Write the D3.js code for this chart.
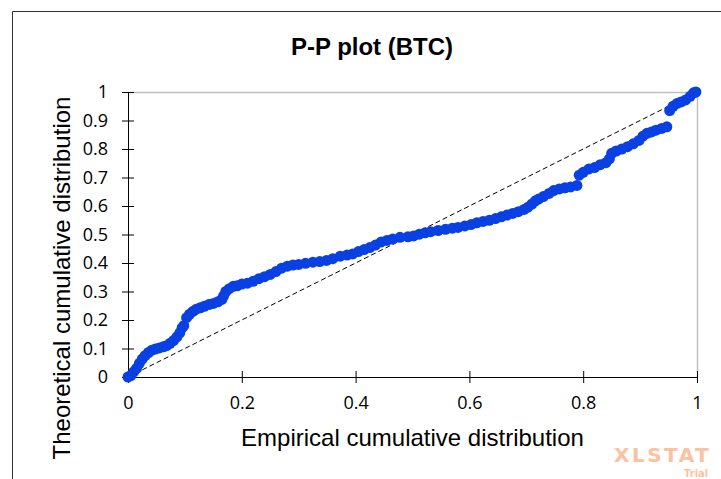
<!DOCTYPE html>
<html>
<head>
<meta charset="utf-8">
<script src="https://cdn.jsdelivr.net/npm/d3@7"></script>
<style>
  body { margin: 0; background: #fff; }
  svg { display: block; }
</style>
</head>
<body>
<div id="chart"></div>
<script>
// P-P plot values
var empirical = [0.000, 0.005, 0.010, 0.015, 0.020, 0.025, 0.030, 0.036, 0.042, 0.048,
    0.055, 0.062, 0.068, 0.074, 0.080, 0.086, 0.091, 0.095, 0.098, 0.103,
    0.108, 0.114, 0.120, 0.127, 0.134, 0.142, 0.150, 0.158, 0.165, 0.168,
    0.172, 0.178, 0.185, 0.192, 0.200, 0.210, 0.220, 0.230, 0.240, 0.250,
    0.260, 0.270, 0.280, 0.290, 0.300, 0.312, 0.325, 0.337, 0.349, 0.360,
    0.373, 0.385, 0.395, 0.405, 0.415, 0.425, 0.435, 0.445, 0.455, 0.465,
    0.478, 0.492, 0.502, 0.512, 0.522, 0.532, 0.545, 0.558, 0.570, 0.580,
    0.592, 0.603, 0.613, 0.624, 0.635, 0.646, 0.656, 0.666, 0.676, 0.686,
    0.696, 0.703, 0.710, 0.716, 0.722, 0.730, 0.740, 0.748, 0.758, 0.768,
    0.778, 0.789, 0.793, 0.800, 0.810, 0.820, 0.830, 0.840, 0.846, 0.850,
    0.858, 0.868, 0.878, 0.888, 0.898, 0.905, 0.912, 0.920, 0.928, 0.938,
    0.947, 0.952, 0.958, 0.965, 0.972, 0.980, 0.988, 0.994, 0.998];
var theoretical = [0.000, 0.005, 0.018, 0.030, 0.048, 0.063, 0.075, 0.086, 0.094, 0.098,
    0.102, 0.106, 0.110, 0.118, 0.128, 0.141, 0.155, 0.172, 0.180, 0.208,
    0.220, 0.230, 0.238, 0.243, 0.248, 0.254, 0.258, 0.264, 0.272, 0.285,
    0.300, 0.310, 0.318, 0.320, 0.326, 0.329, 0.336, 0.345, 0.352, 0.360,
    0.370, 0.382, 0.389, 0.393, 0.395, 0.399, 0.403, 0.405, 0.409, 0.415,
    0.424, 0.428, 0.432, 0.440, 0.447, 0.454, 0.463, 0.474, 0.479, 0.484,
    0.490, 0.492, 0.495, 0.501, 0.506, 0.510, 0.514, 0.518, 0.522, 0.525,
    0.530, 0.535, 0.541, 0.546, 0.550, 0.556, 0.562, 0.568, 0.574, 0.580,
    0.588, 0.596, 0.607, 0.618, 0.625, 0.633, 0.644, 0.654, 0.660, 0.664,
    0.667, 0.672, 0.708, 0.718, 0.730, 0.735, 0.745, 0.752, 0.765, 0.785,
    0.793, 0.800, 0.808, 0.818, 0.830, 0.845, 0.855, 0.860, 0.866, 0.872,
    0.878, 0.935, 0.950, 0.960, 0.965, 0.972, 0.985, 0.997, 1.000];
var xTicks = [0, 0.2, 0.4, 0.6, 0.8, 1];
var yTicks = [0, 0.1, 0.2, 0.3, 0.4, 0.5, 0.6, 0.7, 0.8, 0.9, 1];

var W = 721, H = 479;
var margin = {top: 92, right: 24, bottom: 102, left: 128};
var width = W - margin.left - margin.right,
    height = H - margin.top - margin.bottom;

var svg = d3.select("#chart").append("svg")
    .attr("width", W)
    .attr("height", H);

// chart frame (runs off the right and bottom edge)
svg.append("path")
    .attr("d", "M12.5," + (H + 5) + "V11.5H" + (W + 5))
    .attr("fill", "none")
    .attr("stroke", "#333")
    .attr("stroke-width", 1);

svg.append("text")
    .attr("x", 372)
    .attr("y", 55)
    .attr("text-anchor", "middle")
    .style("font-family", "'Liberation Sans', Arial, sans-serif")
    .style("font-weight", "bold")
    .style("font-size", "24px")
    .text("P-P plot (BTC)");

var g = svg.append("g")
    .attr("transform", "translate(" + margin.left + "," + margin.top + ")");

var xScale = d3.scaleLinear().domain([0, 1]).range([0, width]);
var yScale = d3.scaleLinear().domain([0, 1]).range([height, 0]);

// plot area border (top + right)
g.append("path")
    .attr("d", "M0,0.5H" + (xScale(1) + 0.5) + "V" + height)
    .attr("fill", "none")
    .attr("stroke", "#c0c0c0")
    .attr("stroke-width", 1.5);

var xAxis = d3.axisBottom(xScale)
    .tickValues(xTicks)
    .tickSizeInner(6)
    .tickSizeOuter(0)
    .tickPadding(14)
    .tickFormat(d3.format("~g"));

var yAxis = d3.axisLeft(yScale)
    .tickValues(yTicks)
    .tickSizeInner(6)
    .tickSizeOuter(0)
    .tickPadding(14)
    .tickFormat(d3.format("~g"));

var gx = g.append("g")
    .attr("transform", "translate(0," + height + ")")
    .call(xAxis);
var gy = g.append("g").call(yAxis);

[gx, gy].forEach(function (ax) {
    ax.select(".domain").attr("stroke", "#000");
    ax.selectAll(".tick line").attr("stroke", "#000");
    ax.selectAll("text")
        .attr("fill", "#000")
        .style("font-family", "'Open Sans', sans-serif")
        .style("font-size", "18px");
});
// ticks cross the axis line
gx.selectAll(".tick line").attr("y1", -6).attr("y2", 6);
gy.selectAll(".tick line").attr("x1", -6).attr("x2", 6);
gy.selectAll(".tick text").attr("x", -20);
gx.selectAll(".tick text").attr("y", 19);

// reference diagonal
g.append("line")
    .attr("x1", xScale(0)).attr("y1", yScale(0))
    .attr("x2", xScale(1)).attr("y2", yScale(1))
    .attr("stroke", "#000")
    .attr("stroke-width", 1)
    .attr("stroke-dasharray", "5,3");

var points = empirical.map(function (d, i) {
    return {x: d, y: theoretical[i]};
});

g.selectAll(".pt")
    .data(points)
    .enter().append("circle")
    .attr("class", "pt")
    .attr("cx", function (d) { return xScale(d.x); })
    .attr("cy", function (d) { return yScale(d.y); })
    .attr("r", 5.5)
    .attr("fill", "#0840e4");

// axis titles
svg.append("text")
    .attr("x", margin.left + width / 2)
    .attr("y", 446)
    .attr("text-anchor", "middle")
    .style("font-family", "'Liberation Sans', Arial, sans-serif")
    .style("font-size", "24px")
    .text("Empirical cumulative distribution");

svg.append("text")
    .attr("transform", "translate(70,278) rotate(-90)")
    .attr("text-anchor", "middle")
    .style("font-family", "'Liberation Sans', Arial, sans-serif")
    .style("font-size", "24px")
    .text("Theoretical cumulative distribution");

// watermark
svg.append("text")
    .attr("x", 614)
    .attr("y", 462)
    .attr("fill", "#fbc2a2")
    .style("font-family", "'DejaVu Sans', sans-serif")
    .style("font-weight", "bold")
    .style("font-size", "20px")
    .style("letter-spacing", "2.5px")
    .text("XLSTAT");
svg.append("text")
    .attr("x", 684)
    .attr("y", 477)
    .attr("fill", "#fbc2a2")
    .style("font-family", "'DejaVu Sans', sans-serif")
    .style("font-weight", "bold")
    .style("font-size", "10px")
    .text("Trial");
</script>
</body>
</html>
